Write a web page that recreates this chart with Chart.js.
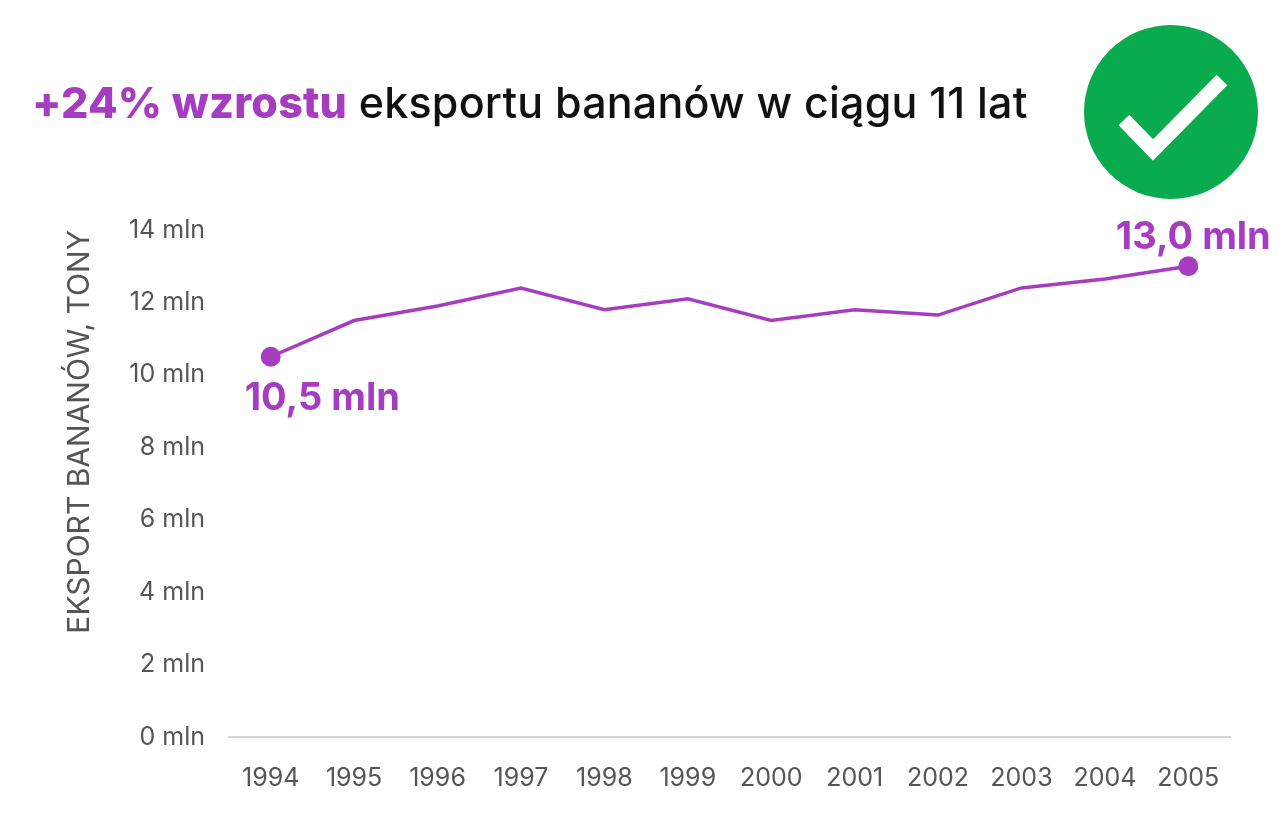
<!DOCTYPE html>
<html lang="pl">
<head>
<meta charset="utf-8">
<title>Eksport bananów</title>
<script src="https://cdn.jsdelivr.net/npm/chart.js@4.4.1/dist/chart.umd.min.js"></script>
<style>
    html, body {
        margin: 0;
        padding: 0;
        background: #fff;
        width: 1283px;
        height: 832px;
        overflow: hidden;
        font-family: Inter, 'Noto Sans', sans-serif;
    }
    #wrap {
        position: absolute;
        left: 0;
        top: 0;
        width: 1283px;
        height: 832px;
    }
    #title {
        position: absolute;
        left: 32px;
        top: 76px;
        font-size: 43px;
        font-weight: 500;
        color: #111;
        white-space: nowrap;
        letter-spacing: 0.2px;
    }
    #title .hl {
        color: #a63dc0;
        font-weight: 800;
    }
    #badge {
        position: absolute;
        left: 1083px;
        top: 24px;
    }
</style>
</head>
<body>
<div id="wrap">
    <canvas id="chart" width="1283" height="832"></canvas>
</div>
<div id="title"><span class="hl">+24% wzrostu</span> eksportu bananów w ciągu 11 lat</div>
<svg id="badge" width="176" height="176" viewBox="0 0 176 176">
    <circle cx="88" cy="88" r="87" fill="#0aab4e"/>
    <polyline points="41,96 70,126 139,56" fill="none" stroke="#fff" stroke-width="15"/>
</svg>
<script>
const years = ['1994', '1995', '1996', '1997', '1998', '1999', '2000', '2001', '2002', '2003', '2004', '2005'];
const exportMln = [10.5, 11.5, 11.9, 12.4, 11.8, 12.1, 11.5, 11.8, 11.65, 12.4, 12.65, 13.0];
const yTicks = [0, 2, 4, 6, 8, 10, 12, 14];

const purple = '#a63dc0';
const grey = '#555';

const fmt = (v) => v.toFixed(1).replace('.', ',') + ' mln';

// show a dot and a label only on the first and last year
const isEnd = (i) => i === 0 || i === exportMln.length - 1;

const endLabels = {
    id: 'endLabels',
    afterDatasetsDraw(chart) {
        const ctx = chart.ctx;
        const pts = chart.getDatasetMeta(0).data;
        const first = pts[0];
        const last = pts[pts.length - 1];
        ctx.save();
        ctx.fillStyle = purple;
        ctx.font = '700 38px Inter, "Noto Sans", sans-serif';
        ctx.textBaseline = 'alphabetic';
        ctx.textAlign = 'left';
        ctx.fillText(fmt(exportMln[0]), first.x - 26, first.y + 53);
        ctx.textAlign = 'center';
        ctx.fillText(fmt(exportMln[exportMln.length - 1]), last.x + 5, last.y - 17);
        ctx.restore();
    }
};

new Chart(document.getElementById('chart'), {
    type: 'line',
    data: {
        labels: years,
        datasets: [{
            data: exportMln,
            borderColor: purple,
            backgroundColor: purple,
            borderWidth: 3.5,
            tension: 0,
            pointRadius: (c) => isEnd(c.dataIndex) ? 10 : 0,
            pointHoverRadius: (c) => isEnd(c.dataIndex) ? 10 : 0,
            pointBorderWidth: 0
        }]
    },
    options: {
        responsive: false,
        animation: false,
        events: [],
        layout: {
            padding: { top: 230, right: 53, bottom: 0, left: 0 }
        },
        plugins: {
            legend: { display: false },
            tooltip: { enabled: false }
        },
        scales: {
            x: {
                offset: true,
                grid: { display: false, drawTicks: false },
                border: { color: '#d6d6d6', width: 2 },
                ticks: {
                    color: grey,
                    padding: 26,
                    maxRotation: 0,
                    font: { family: 'Inter', size: 25 }
                },
                afterFit: (scale) => { scale.height = 95; }
            },
            y: {
                min: 0,
                max: 14,
                afterBuildTicks: (scale) => {
                    scale.ticks = yTicks.map((v) => ({ value: v }));
                },
                grid: { display: false, drawTicks: false },
                border: { display: false },
                ticks: {
                    color: grey,
                    padding: 24,
                    font: { family: 'Inter', size: 25 },
                    callback: (v) => v + ' mln'
                },
                title: {
                    display: true,
                    text: 'EKSPORT BANANÓW, TONY',
                    color: grey,
                    align: 'end',
                    font: { family: 'Inter', size: 30 },
                    padding: { top: 62, bottom: 0 }
                },
                afterFit: (scale) => { scale.width = 229; }
            }
        }
    },
    plugins: [endLabels]
});
</script>
</body>
</html>
